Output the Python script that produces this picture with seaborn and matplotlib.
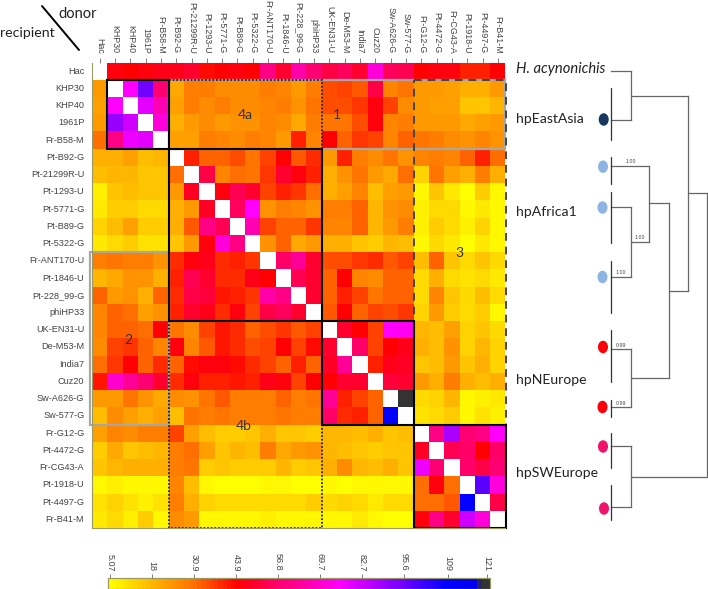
"""Coancestry heatmap of H. pylori strains with the matching tree on the right."""

import matplotlib.pyplot as plt
import numpy as np
import seaborn as sns
from matplotlib.colors import LinearSegmentedColormap
from matplotlib.patches import Ellipse, Rectangle

W, H = 708, 589
X = np.nan

strains = [
    "Hac", "KHP30", "KHP40", "1961P", "Fr-B58-M", "Pt-B92-G", "Pt-21299R-U",
    "Pt-1293-U", "Pt-5771-G", "Pt-B89-G", "Pt-5322-G", "Fr-ANT170-U",
    "Pt-1846-U", "Pt-228_99-G", "phiHP33", "UK-EN31-U", "De-M53-M", "India7",
    "Cuz20", "Sw-A626-G", "Sw-577-G", "Fr-G12-G", "Pt-4472-G", "Fr-CG43-A",
    "Pt-1918-U", "Pt-4497-G", "Fr-B41-M",
]

# one list per recipient, values in donor order
r_hac = [X, 46, 44, 46, 47, 47, 50, 43, 44, 46, 44, 60, 49, 65, 57, 52, 55, 50, 72, 55, 53, 44, 45, 46, 40, 41, 44]
r_khp30 = [24, X, 76, 95, 58, 21, 29, 28, 26, 26, 26, 29, 27, 24, 29, 35, 36, 34, 52, 27, 30, 24, 24, 22, 19, 20, 23]
r_khp40 = [22, 76, X, 80, 66, 22, 29, 26, 28, 26, 26, 27, 28, 25, 30, 35, 35, 38, 46, 37, 26, 23, 22, 22, 15, 16, 18]
r_1961p = [24, 90, 82, X, 72, 19, 23, 26, 24, 25, 25, 27, 26, 21, 29, 30, 30, 35, 46, 27, 28, 24, 24, 23, 21, 22, 24]
r_b58 = [31, 60, 78, 80, X, 22, 22, 28, 27, 26, 29, 27, 24, 40, 27, 44, 33, 38, 36, 27, 33, 30, 29, 26, 25, 27, 25]
r_b92 = [20, 19, 22, 17, 18, X, 40, 33, 33, 35, 30, 37, 44, 34, 39, 24, 41, 28, 26, 30, 25, 27, 29, 27, 33, 41, 31]
r_21299 = [17, 18, 18, 16, 15, 31, X, 52, 27, 31, 30, 38, 50, 45, 40, 19, 25, 30, 24, 21, 31, 13, 30, 22, 20, 28, 20]
r_1293 = [8, 16, 17, 16, 15, 23, 48, X, 46, 54, 50, 36, 40, 38, 31, 19, 22, 27, 17, 22, 23, 7, 16, 9, 5, 14, 6]
r_5771 = [9, 14, 14, 11, 12, 19, 24, 48, X, 55, 76, 25, 28, 27, 25, 29, 29, 33, 18, 25, 26, 8, 11, 11, 7, 9, 6]
r_b89 = [13, 17, 22, 14, 14, 20, 34, 60, 54, X, 66, 37, 33, 33, 38, 27, 27, 33, 18, 23, 28, 8, 14, 11, 8, 13, 7]
r_5322 = [9, 11, 14, 10, 10, 16, 24, 46, 72, 60, X, 25, 33, 21, 23, 19, 19, 15, 14, 18, 17, 7, 11, 9, 5, 9, 7]
r_ant170 = [28, 30, 28, 28, 25, 39, 46, 47, 39, 41, 38, X, 56, 62, 50, 35, 35, 38, 39, 34, 37, 17, 33, 16, 12, 16, 11]
r_1846 = [18, 21, 25, 25, 20, 40, 53, 50, 39, 39, 47, 44, X, 53, 49, 33, 44, 27, 26, 33, 33, 11, 19, 12, 10, 11, 9]
r_228 = [33, 23, 25, 20, 33, 39, 52, 51, 42, 40, 38, 65, 60, X, 50, 33, 40, 37, 30, 33, 33, 11, 27, 15, 12, 17, 11]
r_phi33 = [27, 33, 31, 22, 25, 41, 49, 47, 39, 45, 37, 52, 55, 50, X, 34, 44, 33, 36, 35, 38, 13, 24, 14, 12, 14, 6]
r_en31 = [27, 33, 33, 31, 44, 30, 26, 36, 42, 39, 32, 35, 38, 34, 37, X, 50, 44, 37, 76, 74, 18, 17, 22, 13, 16, 12]
r_m53 = [26, 37, 38, 33, 27, 45, 27, 34, 42, 39, 35, 36, 44, 37, 43, 50, X, 56, 37, 44, 47, 19, 17, 25, 13, 18, 13]
r_india7 = [31, 38, 44, 33, 39, 33, 43, 46, 45, 43, 39, 36, 33, 40, 33, 48, 62, X, 41, 47, 48, 15, 17, 24, 15, 19, 13]
r_cuz20 = [42, 70, 62, 58, 50, 39, 45, 41, 40, 42, 40, 47, 46, 36, 44, 44, 50, 49, X, 51, 50, 24, 20, 28, 20, 17, 19]
r_a626 = [24, 24, 30, 25, 21, 26, 25, 30, 34, 28, 29, 29, 32, 28, 30, 62, 40, 37, 33, X, 121, 11, 13, 18, 7, 8, 9]
r_577 = [17, 26, 22, 20, 22, 17, 30, 29, 30, 29, 29, 28, 30, 29, 29, 56, 39, 40, 33, 108, X, 10, 11, 14, 7, 10, 8]
r_g12 = [22, 27, 26, 28, 29, 37, 22, 17, 14, 14, 15, 20, 15, 15, 14, 18, 18, 17, 19, 16, 17, X, 60, 88, 58, 60, 75]
r_4472 = [14, 21, 15, 17, 18, 29, 31, 22, 16, 18, 17, 29, 21, 24, 25, 18, 17, 15, 14, 15, 15, 48, X, 54, 56, 44, 56]
r_cg43 = [15, 18, 20, 20, 19, 29, 30, 14, 15, 14, 14, 14, 18, 14, 15, 19, 26, 18, 17, 19, 16, 78, 58, X, 56, 52, 57]
r_1918 = [6, 8, 6, 7, 6, 27, 17, 6, 5, 5, 5, 6, 7, 5, 5, 7, 5, 7, 6, 6, 6, 31, 45, 31, X, 98, 72]
r_4497 = [10, 13, 10, 8, 10, 29, 20, 13, 12, 12, 12, 12, 12, 12, 14, 12, 13, 12, 9, 12, 12, 31, 31, 34, 108, X, 52]
r_b41 = [9, 12, 8, 14, 6, 26, 23, 7, 6, 6, 7, 8, 6, 6, 6, 6, 7, 9, 7, 5, 5, 45, 60, 50, 82, 72, X]

cbar_ticks = [5.07, 18, 30.9, 43.9, 56.8, 69.7, 82.7, 95.6, 109, 121]
cbar_labels = ["5.07", "18", "30.9", "43.9", "56.8", "69.7", "82.7", "95.6", "109", "121"]

# tree drawn in image pixels: (x0, y0, x1, y1)
tree_segments = [
    (611, 71, 630.7, 71), (630.7, 71, 630.7, 120), (611, 120, 630.7, 120),
    (630.7, 95.7, 688.3, 95.7), (688.3, 95.7, 688.3, 290.7),
    (688.3, 193, 707.3, 193), (707.3, 193, 707.3, 476.7),
    (630.7, 476.7, 707.3, 476.7), (630.7, 446, 630.7, 506.7),
    (611, 446, 630.7, 446), (611, 506.7, 630.7, 506.7),
    (669.3, 290.7, 688.3, 290.7), (669.3, 203.3, 669.3, 378.3),
    (649.3, 203.3, 669.3, 203.3), (649.3, 166, 649.3, 241.7),
    (611, 166, 649.3, 166), (630.7, 241.7, 649.3, 241.7),
    (630.7, 206.7, 630.7, 276.7), (611, 206.7, 630.7, 206.7),
    (611, 276.7, 630.7, 276.7), (630.7, 378.3, 669.3, 378.3),
    (630.7, 349.3, 630.7, 407.3), (611, 349.3, 630.7, 349.3),
    (611, 407.3, 630.7, 407.3),
]
clade_bars = [
    (87.7, 140), (157, 184), (192, 243), (260.7, 312.7), (330, 381.7),
    (400, 416.7), (433, 467.7), (485, 520),
]
tree_dots = [
    (603.7, 119.5, "#17375e"), (603, 166.7, "#8db4e2"), (602.5, 207.5, "#8db4e2"),
    (602.5, 277, "#8db4e2"), (603, 347, "#fb0007"), (602.5, 407, "#fb0007"),
    (603, 446.5, "#f0156a"), (604, 508.5, "#f0156a"),
]
support_labels = [
    (630.7, 161.7, "1.00"), (640, 237.5, "1.00"), (620.7, 272, "1.00"),
    (620.7, 345.6, "0.99"), (620.7, 403.7, "0.99"),
]
clade_names = [
    (119, "hpEastAsia"), (212, "hpAfrica1"), (380, "hpNEurope"), (473, "hpSWEurope"),
]

# the usual fineSTRUCTURE ramp
VMIN, VMAX = 4.45, 122.0
stops = [
    (VMIN, "#ffff00"), (18, "#ffb400"), (30.9, "#ff6e00"), (43.9, "#ff0000"),
    (56.8, "#ff0070"), (69.7, "#ff00c8"), (76, "#ff00ff"), (95.6, "#7000ff"),
    (109, "#0000ff"), (119, "#0000f0"), (119.5, "#333333"), (VMAX, "#333333"),
]
cmap = LinearSegmentedColormap.from_list(
    "finestructure",
    [((v - VMIN) / (VMAX - VMIN), c) for v, c in stops],
    N=90,
)


def px_axes(fig, left, top, right, bottom):
    return fig.add_axes([left / W, 1 - bottom / H, (right - left) / W, (bottom - top) / H])


def draw_heatmap(fig):
    matrix = np.array([
        r_hac, r_khp30, r_khp40, r_1961p, r_b58, r_b92, r_21299, r_1293, r_5771,
        r_b89, r_5322, r_ant170, r_1846, r_228, r_phi33, r_en31, r_m53, r_india7,
        r_cuz20, r_a626, r_577, r_g12, r_4472, r_cg43, r_1918, r_4497, r_b41,
    ])
    ax = px_axes(fig, 92, 62.5, 505.5, 528)
    cax = px_axes(fig, 108, 578, 490, 589)
    sns.heatmap(
        matrix, ax=ax, cmap=cmap, vmin=VMIN, vmax=VMAX, square=False,
        xticklabels=strains, yticklabels=strains, cbar_ax=cax,
        cbar_kws={"orientation": "horizontal", "ticks": cbar_ticks},
    )
    ax.xaxis.tick_top()
    ax.tick_params(axis="x", labeltop=True, labelbottom=False, length=3.5, width=0.6,
                   color="#666666", labelsize=6.4, labelcolor="#444444", pad=3)
    ax.tick_params(axis="y", length=3.5, width=0.6, color="#666666", labelsize=6.6,
                   labelcolor="#444444", pad=2)
    plt.setp(ax.get_xticklabels(), rotation=270, ha="center", va="bottom")
    plt.setp(ax.get_yticklabels(), rotation=0)
    for spine in ("left", "bottom"):
        ax.spines[spine].set_visible(True)
        ax.spines[spine].set_color("#999966")
        ax.spines[spine].set_linewidth(0.8)

    cax.xaxis.tick_top()
    cax.set_xticks(cbar_ticks, cbar_labels)
    cax.tick_params(axis="x", length=3, width=0.6, color="#666666", labelsize=6.5,
                    labelcolor="#444444", pad=2, labeltop=True, labelbottom=False)
    plt.setp(cax.get_xticklabels(), rotation=270, ha="center", va="bottom")
    for spine in cax.spines.values():
        spine.set_visible(True)
        spine.set_color("#999966")
        spine.set_linewidth(0.8)

    # block outlines, in cell units
    def box(x0, y0, x1, y1, **kw):
        ax.add_patch(Rectangle((x0, y0), x1 - x0, y1 - y0, fill=False, clip_on=False, **kw))

    box(5, 1, 27, 5, ec="#a8a8a0", lw=1.6)
    box(-0.1, 11, 5, 21, ec="#a8a8a0", lw=1.6)
    box(21, 1, 27, 21, ec="#444444", lw=1.4, ls=(0, (4, 3)))
    box(5, 1, 15, 5, ec="#222222", lw=1.3, ls=(0, (1, 1)))
    box(5, 15, 15, 27, ec="#222222", lw=1.3, ls=(0, (1, 1)))
    for x0, y0, x1, y1 in [(1, 1, 5, 5), (5, 5, 15, 15), (15, 15, 21, 21), (21, 21, 27, 27)]:
        box(x0, y0, x1, y1, ec="black", lw=1.5)


def draw_overlay(fig):
    ov = fig.add_axes([0, 0, 1, 1], facecolor="none")
    ov.set_xlim(0, W)
    ov.set_ylim(H, 0)
    ov.axis("off")

    ov.plot([42, 79], [6, 50], color="black", lw=1.4)
    ov.text(58, 14, "donor", fontsize=10.5, family="Lato", color="#222222", va="center")
    ov.text(0, 33, "recipient", fontsize=10.2, family="Lato", color="#222222", va="center")

    for x, y, s in [(245, 115, "4a"), (337, 115, "1"), (459, 253, "3"), (128, 340, "2"), (244, 426, "4b")]:
        ov.text(x, y, s, fontsize=10, family="Lato", color="#333333", ha="center", va="center")

    ov.text(516, 69, "H. acynonichis", fontsize=10.6, family="Lato", style="italic",
            color="#222222", va="center")
    for y, name in clade_names:
        ov.text(516, y, name, fontsize=10.1, family="Lato", color="#222222", va="center")

    for x0, y0, x1, y1 in tree_segments:
        ov.plot([x0, x1], [y0, y1], color="#666666", lw=0.9, solid_capstyle="projecting")
    for y0, y1 in clade_bars:
        ov.plot([611, 611], [y0, y1], color="#333333", lw=0.9)
    for x, y, c in tree_dots:
        ov.add_patch(Ellipse((x, y), 10, 12.5, color=c, lw=0))
    for x, y, s in support_labels:
        ov.text(x, y, s, fontsize=3.8, color="#444444", ha="center", va="center")


def main():
    sns.set_theme(style="white", rc={"font.family": ["Liberation Sans", "DejaVu Sans"]})
    fig = plt.figure(figsize=(W / 100, H / 100), dpi=100, facecolor="white")
    draw_heatmap(fig)
    draw_overlay(fig)
    fig.savefig("out.png", dpi=100)
    plt.close(fig)


if __name__ == "__main__":
    main()
